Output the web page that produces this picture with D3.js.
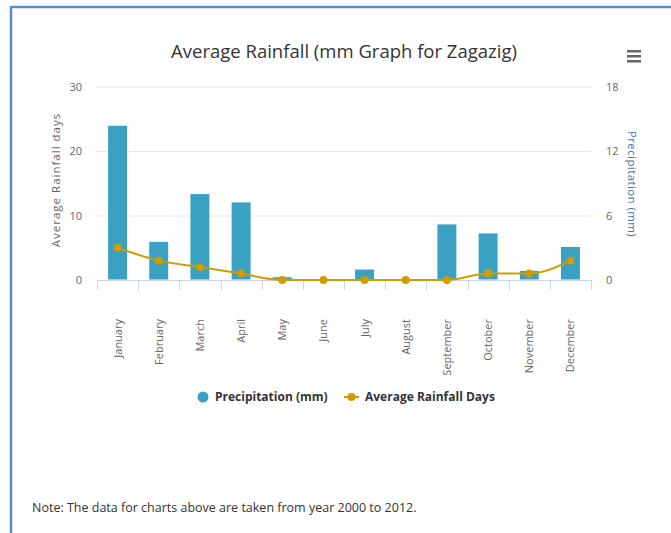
<!DOCTYPE html>
<html>
<head>
<meta charset="utf-8">
<script src="https://cdn.jsdelivr.net/npm/d3@7"></script>
<style>
  body { margin: 0; background: #fff; }
  svg { display: block; font-family: "Open Sans", "Liberation Sans", sans-serif; }
</style>
</head>
<body>
<svg id="chart" width="671" height="533"></svg>
<script>
const months = ['January', 'February', 'March', 'April', 'May', 'June',
  'July', 'August', 'September', 'October', 'November', 'December'];
const precipitation = [24, 6, 13.4, 12.1, 0.5, 0, 1.7, 0, 8.7, 7.3, 1.5, 5.2];
const rainfallDays = [3, 1.8, 1.2, 0.6, 0, 0, 0, 0, 0, 0.6, 0.6, 1.8];
const leftTicks = [0, 10, 20, 30];
const rightTicks = [0, 6, 12, 18];

const svg = d3.select('#chart');
const plot = { left: 97, right: 591, top: 86.5, bottom: 280 };

// page frame
svg.append('line').attr('x1', 11).attr('x2', 671).attr('y1', 7).attr('y2', 7)
  .attr('stroke', '#5b8ac6').attr('stroke-width', 2.5);
svg.append('line').attr('x1', 11).attr('x2', 11).attr('y1', 6).attr('y2', 533)
  .attr('stroke', '#5b8ac6').attr('stroke-width', 2.5);

const x = d3.scaleBand().domain(months).range([plot.left, plot.right]);
const yLeft = d3.scaleLinear().domain([0, 30]).range([plot.bottom, plot.top]);
const yRight = d3.scaleLinear().domain([0, 18]).range([plot.bottom, plot.top]);

// gridlines
svg.append('g').selectAll('line').data(leftTicks.slice(1)).join('line')
  .attr('x1', plot.left).attr('x2', plot.right)
  .attr('y1', (d) => yLeft(d) + 0.5).attr('y2', (d) => yLeft(d) + 0.5)
  .attr('stroke', '#e6e6e6');

// left axis labels
svg.append('g').selectAll('text').data(leftTicks).join('text')
  .attr('x', 82).attr('y', (d) => yLeft(d) + 4)
  .attr('text-anchor', 'end').attr('fill', '#666').attr('font-size', 11)
  .text((d) => d);

// right axis labels
svg.append('g').selectAll('text').data(rightTicks).join('text')
  .attr('x', 606).attr('y', (d) => yRight(d) + 4)
  .attr('text-anchor', 'start').attr('fill', '#666').attr('font-size', 11)
  .text((d) => d);

// axis titles
svg.append('text')
  .attr('transform', 'translate(60,180) rotate(-90)')
  .attr('text-anchor', 'middle').attr('fill', '#666').attr('font-size', 11.5)
  .attr('letter-spacing', 1)
  .text('Average Rainfall days');
svg.append('text')
  .attr('transform', 'translate(628,184) rotate(90)')
  .attr('text-anchor', 'middle').attr('fill', '#4572a7').attr('font-size', 11.5)
  .attr('letter-spacing', 0.4)
  .text('Precipitation (mm)');

// bars
const barWidth = 20;
svg.append('g').selectAll('rect').data(precipitation).join('rect')
  .attr('x', (d, i) => x(months[i]) + x.bandwidth() / 2 - barWidth / 2)
  .attr('y', (d) => yLeft(d))
  .attr('width', barWidth)
  .attr('height', (d) => plot.bottom - yLeft(d))
  .attr('fill', '#3aa1c3')
  .attr('stroke', '#ffffff').attr('stroke-width', 1);

// x axis
const xAxis = svg.append('g');
xAxis.append('line').attr('x1', plot.left).attr('x2', plot.right)
  .attr('y1', plot.bottom + 0.5).attr('y2', plot.bottom + 0.5)
  .attr('stroke', '#ccd6eb');
xAxis.selectAll('.tick').data(d3.range(months.length + 1)).join('line')
  .attr('class', 'tick')
  .attr('x1', (i) => Math.round(plot.left + i * x.bandwidth()) + 0.5)
  .attr('x2', (i) => Math.round(plot.left + i * x.bandwidth()) + 0.5)
  .attr('y1', plot.bottom).attr('y2', plot.bottom + 10)
  .attr('stroke', '#ccd6eb');
xAxis.selectAll('text').data(months).join('text')
  .attr('transform', (d) => `translate(${x(d) + x.bandwidth() / 2 + 4},319) rotate(-90)`)
  .attr('text-anchor', 'end').attr('fill', '#666').attr('font-size', 11)
  .text((d) => d);

// rainfall days line
const lineColor = '#cf9d00';
const line = d3.line()
  .x((d, i) => x(months[i]) + x.bandwidth() / 2)
  .y((d) => yRight(d))
  .curve(d3.curveMonotoneX);
svg.append('path').datum(rainfallDays)
  .attr('d', line).attr('fill', 'none')
  .attr('stroke', lineColor).attr('stroke-width', 2);
svg.append('g').selectAll('circle').data(rainfallDays).join('circle')
  .attr('cx', (d, i) => x(months[i]) + x.bandwidth() / 2)
  .attr('cy', (d) => yRight(d))
  .attr('r', 4).attr('fill', lineColor);

// title
svg.append('text').attr('x', 344).attr('y', 58)
  .attr('text-anchor', 'middle').attr('fill', '#333').attr('font-size', 18.5)
  .text('Average Rainfall (mm Graph for Zagazig)');

// menu icon
svg.append('g').selectAll('rect').data([0, 1, 2]).join('rect')
  .attr('x', 627).attr('y', (d) => 50 + d * 5)
  .attr('width', 14).attr('height', 2.5).attr('fill', '#666');

// legend
const legend = svg.append('g').attr('font-size', 12).attr('font-weight', 'bold').attr('fill', '#333');
legend.append('circle').attr('cx', 203).attr('cy', 397).attr('r', 5.5).attr('fill', '#3aa1c3');
legend.append('text').attr('x', 215).attr('y', 401).text('Precipitation (mm)');
legend.append('line').attr('x1', 344).attr('x2', 359).attr('y1', 397).attr('y2', 397)
  .attr('stroke', lineColor).attr('stroke-width', 2);
legend.append('circle').attr('cx', 351.5).attr('cy', 397).attr('r', 4).attr('fill', lineColor);
legend.append('text').attr('x', 365).attr('y', 401).text('Average Rainfall Days');

// note
svg.append('text').attr('x', 32).attr('y', 512)
  .attr('fill', '#333').attr('font-size', 12.5)
  .text('Note: The data for charts above are taken from year 2000 to 2012.');
</script>
</body>
</html>
